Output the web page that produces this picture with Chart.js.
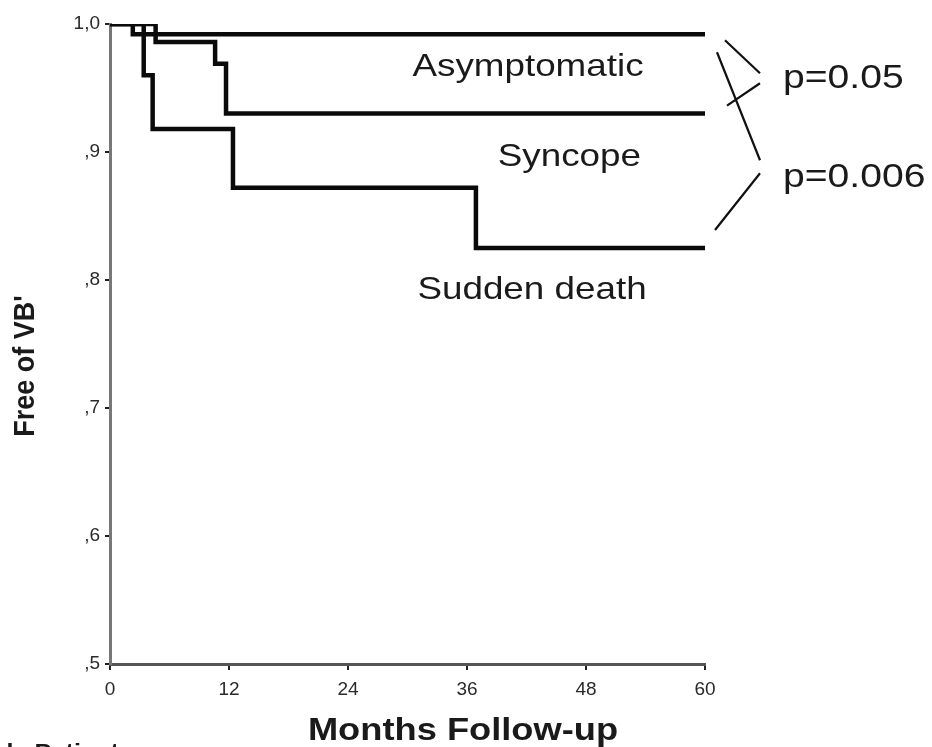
<!DOCTYPE html>
<html>
<head>
<meta charset="utf-8">
<title>Free of VB - Months Follow-up</title>
<script src="https://cdn.jsdelivr.net/npm/chart.js@4.4.1/dist/chart.umd.min.js"></script>
<style>
  html, body { margin: 0; padding: 0; background: #fff; }
  #wrap { width: 932px; height: 747px; }
</style>
</head>
<body>
<div id="wrap"><canvas id="kmChart" width="932" height="747"></canvas></div>
<script>
// Kaplan-Meier step points: month of each event and survival after it
const asymMonths    = [0, 2.3, 60];
const asymSurv      = [1.0, 0.992, 0.992];

const syncopeMonths = [0, 4.6, 10.6, 11.7, 60];
const syncopeSurv   = [1.0, 0.986, 0.969, 0.930, 0.930];

const suddenMonths  = [0, 3.4, 4.3, 12.4, 36.9, 60];
const suddenSurv    = [1.0, 0.960, 0.918, 0.872, 0.825, 0.825];

const groupNames = ['Asymptomatic', 'Syncope', 'Sudden death'];
const pValues    = ['p=0.05', 'p=0.006'];

const xTicks = [0, 12, 24, 36, 48, 60];
const yTicks = [0.5, 0.6, 0.7, 0.8, 0.9, 1.0];

const FONT = "'Liberation Sans', Arial, sans-serif";
const STRETCH = 1.15; // the original lettering is slightly wide

function toPoints(months, surv) {
  return months.map((m, i) => ({ x: m, y: surv[i] }));
}

// ',9' style labels, '1,0' for the top
function yLabel(v) {
  const r = Math.round(v * 10);
  return r === 10 ? '1,0' : ',' + r;
}

function wideText(ctx, text, x, y, font, align, sx) {
  ctx.save();
  ctx.font = font;
  ctx.textAlign = align;
  ctx.textBaseline = 'alphabetic';
  ctx.fillStyle = '#1a1a1a';
  ctx.translate(x, y);
  ctx.scale(sx || STRETCH, 1);
  ctx.fillText(text, 0, 0);
  ctx.restore();
}

/**
 * Curve names, log-rank brackets and axis titles
 */
const annotations = {
  id: 'annotations',
  afterDraw(chart) {
    const ctx = chart.ctx;
    const xs = chart.scales.x;
    const ys = chart.scales.y;
    const area = chart.chartArea;

    // curve names
    const labelFont = '32px ' + FONT;
    wideText(ctx, groupNames[0], xs.getPixelForValue(30.5), ys.getPixelForValue(0.959), labelFont, 'left');
    wideText(ctx, groupNames[1], xs.getPixelForValue(39.1), ys.getPixelForValue(0.889), labelFont, 'left');
    wideText(ctx, groupNames[2], xs.getPixelForValue(31.0), ys.getPixelForValue(0.785), labelFont, 'left');

    // brackets joining the compared curves
    const yAsym = ys.getPixelForValue(asymSurv[asymSurv.length - 1]);
    const ySync = ys.getPixelForValue(syncopeSurv[syncopeSurv.length - 1]);
    const ySud  = ys.getPixelForValue(suddenSurv[suddenSurv.length - 1]);
    const r = area.right;

    ctx.save();
    ctx.strokeStyle = '#111';
    ctx.lineWidth = 2.2;
    ctx.beginPath();
    ctx.moveTo(r + 20, yAsym + 6);
    ctx.lineTo(r + 55, yAsym + 39);
    ctx.moveTo(r + 55, yAsym + 49);
    ctx.lineTo(r + 22, ySync - 8);
    ctx.moveTo(r + 12, yAsym + 18);
    ctx.lineTo(r + 55, yAsym + 126);
    ctx.moveTo(r + 55, yAsym + 139);
    ctx.lineTo(r + 10, ySud - 18);
    ctx.stroke();
    ctx.restore();

    const pFont = '34px ' + FONT;
    wideText(ctx, pValues[0], r + 78, yAsym + 54, pFont, 'left');
    wideText(ctx, pValues[1], r + 78, yAsym + 153, pFont, 'left');

    // axis titles
    wideText(ctx, 'Months Follow-up', 463, 740, 'bold 31px ' + FONT, 'center', 1.17);

    ctx.save();
    ctx.font = 'bold 27px ' + FONT;
    ctx.fillStyle = '#1a1a1a';
    ctx.textAlign = 'center';
    ctx.textBaseline = 'middle';
    ctx.translate(26, 366);
    ctx.scale(1.1, 1);
    ctx.rotate(-Math.PI / 2);
    ctx.fillText("Free of VB'", 0, 0);
    ctx.restore();

    // caption running off the bottom edge
    wideText(ctx, 'de Patients', -2, 759, 'bold 22px ' + FONT, 'left');
  }
};

function initChart() {
  const lineStyle = {
    borderColor: '#0a0a0a',
    borderWidth: 4.5,
    stepped: 'before',
    pointRadius: 0,
    fill: false,
    borderJoinStyle: 'miter',
    borderCapStyle: 'butt'
  };

  new Chart(document.getElementById('kmChart'), {
    type: 'line',
    data: {
      datasets: [
        { label: groupNames[0], data: toPoints(asymMonths, asymSurv), ...lineStyle },
        { label: groupNames[1], data: toPoints(syncopeMonths, syncopeSurv), ...lineStyle },
        { label: groupNames[2], data: toPoints(suddenMonths, suddenSurv), ...lineStyle }
      ]
    },
    options: {
      responsive: false,
      animation: false,
      layout: { padding: { top: 24, right: 227, left: 0, bottom: 0 } },
      plugins: {
        legend: { display: false },
        tooltip: { enabled: false }
      },
      scales: {
        x: {
          type: 'linear',
          min: 0,
          max: 60,
          afterBuildTicks: s => { s.ticks = xTicks.map(v => ({ value: v })); },
          afterFit: s => { s.height = 83; },
          ticks: {
            color: '#2a2a2a',
            padding: 8,
            font: { family: FONT, size: 19 }
          },
          grid: {
            drawOnChartArea: false,
            drawTicks: true,
            tickLength: 6,
            color: '#222',
            lineWidth: 2
          },
          border: { color: '#555', width: 3 }
        },
        y: {
          type: 'linear',
          min: 0.5,
          max: 1.0,
          afterBuildTicks: s => { s.ticks = yTicks.map(v => ({ value: v })); },
          afterFit: s => { s.width = 110; },
          ticks: {
            color: '#2a2a2a',
            padding: 5,
            font: { family: FONT, size: 19 },
            callback: v => yLabel(v)
          },
          grid: {
            drawOnChartArea: false,
            drawTicks: true,
            tickLength: 5,
            color: '#222',
            lineWidth: 2
          },
          border: { color: '#777', width: 3 }
        }
      }
    },
    plugins: [annotations]
  });
}

initChart();
</script>
</body>
</html>
